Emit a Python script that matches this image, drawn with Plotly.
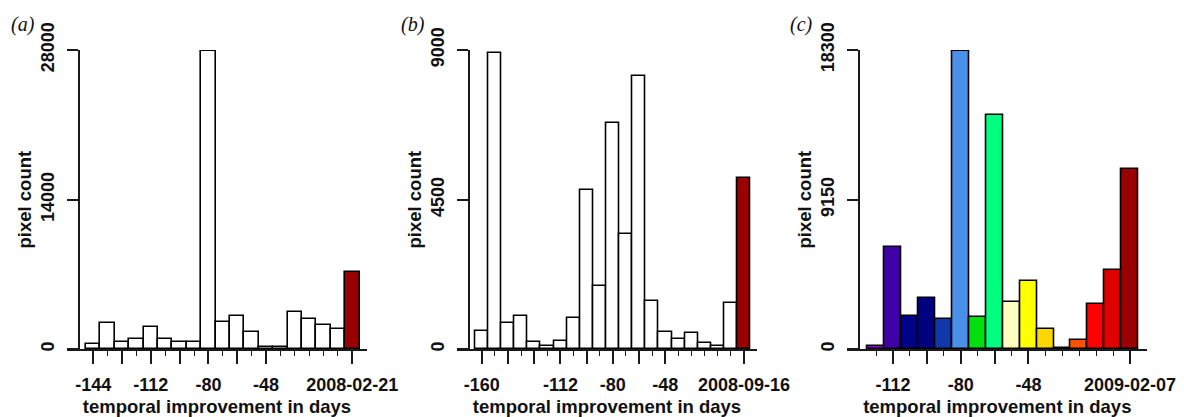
import plotly.graph_objects as go

W, H = 1184, 417

# ---------------- data ----------------
a_days = [-144, -136, -128, -120, -112, -104, -96, -88, -80, -72, -64, -56, -48, -40, -32, -24, -16, -8, 0]
a_counts = [470, 2460, 690, 970, 2120, 1000, 655, 655, 27950, 2520, 3120, 1620, 190, 220, 3460, 2810, 2280, 1870, 7270]
a_colors = ["#ffffff"] * 18 + ["#9a0000"]
a_ymax = 28000
a_yticks = [0, 14000, 28000]
a_major = [-144, -128, -112, -96, -80, -64, -48, 0]
a_major_text = ["-144", "", "-112", "", "-80", "", "-48", "2008-02-21"]
a_minor = [-136, -120, -104, -88, -72, -56, -40, -32, -24, -16, -8]

b_days = [-160, -152, -144, -136, -128, -120, -112, -104, -96, -88, -80, -72, -64, -56, -48, -40, -32, -24, -16, -8, 0]
b_counts = [560, 8920, 800, 1000, 230, 90, 260, 930, 4780, 1900, 6800, 3480, 8210, 1450, 530, 320, 490, 180, 110, 1390, 5140]
b_colors = ["#ffffff"] * 20 + ["#9a0000"]
b_ymax = 9000
b_yticks = [0, 4500, 9000]
b_major = [-160, -144, -128, -112, -96, -80, -64, -48, 0]
b_major_text = ["-160", "", "", "-112", "", "-80", "", "-48", "2008-09-16"]
b_minor = [-152, -136, -120, -104, -88, -72, -56, -40, -32, -24, -16, -8]

c_days = [-120, -112, -104, -96, -88, -80, -72, -64, -56, -48, -40, -32, -24, -16, -8, 0]
c_counts = [200, 6240, 2040, 3140, 1830, 18260, 1980, 14310, 2870, 4200, 1260, 80, 550, 2770, 4850, 11010]
c_colors = ["#9400d3", "#4000a8", "#000088", "#000080", "#1038aa", "#4a90e8", "#00e010", "#00ff7f",
            "#ffffc0", "#ffff00", "#ffd700", "#ffffff", "#ff5000", "#ff0000", "#e00000", "#9a0000"]
c_ymax = 18300
c_yticks = [0, 9150, 18300]
c_major = [-112, -96, -80, -64, -48, 0]
c_major_text = ["-112", "", "-80", "", "-48", "2009-02-07"]
c_minor = [-120, -104, -88, -72, -56, -40, -32, -24, -16, -8]

panel_labels = ["a", "b", "c"]
x_title = "temporal improvement in days"
y_title = "pixel count"

# ---------------- layout geometry (pixels) ----------------
y_top_px, y_bot_px = 50.0, 349.3
panels = [
    dict(days=a_days, counts=a_counts, colors=a_colors, ymax=a_ymax, yticks=a_yticks,
         major=a_major, major_text=a_major_text, minor=a_minor,
         xpx=(67.0, 367.0), xr=(-158.6, 8.17), ypos=78.7, lab=22.5),
    dict(days=b_days, counts=b_counts, colors=b_colors, ymax=b_ymax, yticks=b_yticks,
         major=b_major, major_text=b_major_text, minor=b_minor,
         xpx=(457.3, 756.7), xr=(-174.9, 7.75), ypos=468.7, lab=412.5),
    dict(days=c_days, counts=c_counts, colors=c_colors, ymax=c_ymax, yticks=c_yticks,
         major=c_major, major_text=c_major_text, minor=c_minor,
         xpx=(847.3, 1147.3), xr=(-133.6, 8.18), ypos=858.7, lab=801.5),
]

ink = "#1a1a1a"
fam = "Liberation Sans, Arial, sans-serif"

fig = go.Figure()
layout = dict(
    template="none",
    width=W, height=H, margin=dict(l=0, r=0, t=0, b=0, pad=0), autosize=False,
    paper_bgcolor="white", plot_bgcolor="white", showlegend=False,
    bargap=0, annotations=[],
)

for i, p in enumerate(panels):
    n = "" if i == 0 else str(i + 1)
    fig.add_trace(go.Bar(
        x=p["days"], y=p["counts"], width=8,
        marker=dict(color=p["colors"], line=dict(color="#000000", width=1.6)),
        xaxis="x" + n, yaxis="y" + n, hoverinfo="x+y",
    ))
    xd = [p["xpx"][0] / W, p["xpx"][1] / W]
    yd = [1 - y_bot_px / H, 1 - y_top_px / H]
    layout["xaxis" + n] = dict(
        domain=xd, range=list(p["xr"]), anchor="y" + n, automargin=False,
        showline=True, linecolor=ink, linewidth=1.6,
        showgrid=False, zeroline=False,
        tickmode="array", tickvals=p["major"], ticktext=p["major_text"],
        ticks="outside", ticklen=12.5, tickwidth=1.6, tickcolor=ink,
        tickfont=dict(family=fam, size=18, color="#111111", weight="bold"),
        ticklabelstandoff=6,
        minor=dict(tickmode="array", tickvals=p["minor"], ticks="outside",
                   ticklen=5, tickwidth=1.4, tickcolor=ink, showgrid=False),
        title=dict(text=x_title, standoff=6,
                   font=dict(family=fam, size=18.5, color="#111111", weight="bold")),
        fixedrange=True,
    )
    layout["yaxis" + n] = dict(
        domain=yd, range=[0, p["ymax"]], anchor="free", position=p["ypos"] / W,
        automargin=False,
        showline=True, linecolor=ink, linewidth=1.6,
        showgrid=False, zeroline=False,
        tickmode="array", tickvals=p["yticks"], ticktext=[str(v) for v in p["yticks"]],
        ticks="outside", ticklen=11, tickwidth=1.6, tickcolor=ink,
        tickangle=-90,
        tickfont=dict(family=fam, size=18, color="#111111", weight="bold"),
        ticklabelstandoff=6,
        title=dict(text=y_title, standoff=0,
                   font=dict(family=fam, size=18.5, color="#111111", weight="bold")),
        fixedrange=True,
    )
    layout["annotations"].append(dict(
        text="(" + panel_labels[i] + ")", xref="paper", yref="paper",
        x=p["lab"] / W, y=1 - 25 / H, xanchor="center", yanchor="middle",
        showarrow=False,
        font=dict(family="Liberation Serif, Times New Roman, serif", size=20,
                  color="#111111", style="italic"),
    ))

fig.update_layout(**layout)
fig.write_html(
    "out.html",
    config={"displayModeBar": False},
    post_script="document.body.style.margin='0px';document.body.style.overflow='hidden';",
)
